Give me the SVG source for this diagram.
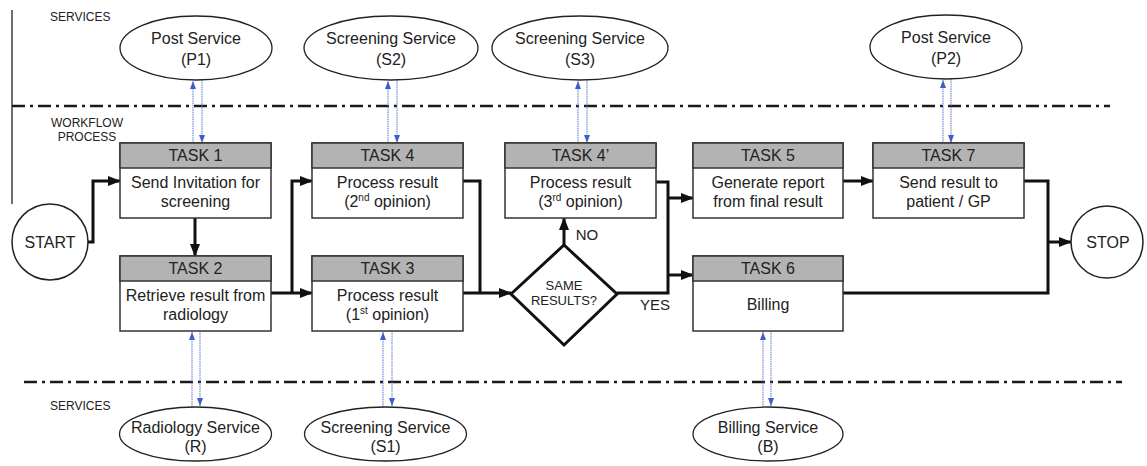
<svg xmlns="http://www.w3.org/2000/svg" width="1147" height="466" viewBox="0 0 1147 466">
<style>
text{font-family:"Liberation Sans",Arial,sans-serif;fill:#222;}
.t{font-size:16px;text-anchor:middle;}
.d{font-size:13px;text-anchor:middle;}
.y{font-size:15px;text-anchor:middle;}
.sup{font-size:10px;}
.lbl{font-size:12px;}
.box{fill:#fff;stroke:#333;stroke-width:1.5;}
.hdr{fill:#b3b3b3;stroke:#333;stroke-width:1.5;}
.ell{fill:#fff;stroke:#222;stroke-width:1.3;}
.flow{fill:none;stroke:#111;stroke-width:3;}
.svc{fill:none;stroke:#5a72d2;stroke-width:1;stroke-dasharray:1.5 0.8;}
.lane{fill:none;stroke:#1a1a1a;stroke-width:2.5;stroke-dasharray:13 5 3 5;}
</style>
<defs>
<marker id="ah" markerUnits="userSpaceOnUse" markerWidth="14" markerHeight="12" refX="12" refY="5" orient="auto">
<path d="M0,0 L13,5 L0,10 z" fill="#111"/>
</marker>
<marker id="bh" markerUnits="userSpaceOnUse" markerWidth="8" markerHeight="8" refX="8" refY="3" orient="auto">
<path d="M0,0 L8,3 L0,6 z" fill="#3f5cc8"/>
</marker>
</defs>
<rect width="1147" height="466" fill="#fff"/>
<g id="lanes">
<line x1="12" y1="10" x2="12" y2="204" stroke="#222" stroke-width="1.3"/>
<line class="lane" x1="12" y1="106" x2="1110" y2="106"/>
<line class="lane" x1="24" y1="382" x2="1122" y2="382"/>
<text class="lbl" x="50" y="21">SERVICES</text>
<text class="lbl" x="87" y="127" text-anchor="middle">WORKFLOW</text>
<text class="lbl" x="87" y="141" text-anchor="middle">PROCESS</text>
<text class="lbl" x="50" y="410">SERVICES</text>
</g>
<g id="connectors">
<path class="flow" d="M88,242 H93 V181 H120" marker-end="url(#ah)"/>
<path class="flow" d="M195,218 V256" marker-end="url(#ah)"/>
<path class="flow" d="M271,293 H312" marker-end="url(#ah)"/>
<path class="flow" d="M292,293 V181 H312" marker-end="url(#ah)"/>
<path class="flow" d="M463,181 H480 V293"/>
<path class="flow" d="M463,293 H511" marker-end="url(#ah)"/>
<path class="flow" d="M564,245 V218" marker-end="url(#ah)"/>
<path class="flow" d="M617,293 H668 V182 H656"/>
<path class="flow" d="M668,198 H693" marker-end="url(#ah)"/>
<path class="flow" d="M668,275 H693" marker-end="url(#ah)"/>
<path class="flow" d="M843,181 H873" marker-end="url(#ah)"/>
<path class="flow" d="M1024,181 H1048 V293 H843"/>
<path class="flow" d="M1048,242 H1071" marker-end="url(#ah)"/>
<text class="y" x="587" y="240">NO</text>
<text class="y" x="655" y="310">YES</text>
<line class="svc" x1="193" y1="143" x2="193" y2="81" marker-end="url(#bh)"/>
<line class="svc" x1="202" y1="80" x2="202" y2="143" marker-end="url(#bh)"/>
<line class="svc" x1="388" y1="143" x2="388" y2="81" marker-end="url(#bh)"/>
<line class="svc" x1="397" y1="80" x2="397" y2="143" marker-end="url(#bh)"/>
<line class="svc" x1="578" y1="143" x2="578" y2="81" marker-end="url(#bh)"/>
<line class="svc" x1="587" y1="80" x2="587" y2="143" marker-end="url(#bh)"/>
<line class="svc" x1="943" y1="143" x2="943" y2="80" marker-end="url(#bh)"/>
<line class="svc" x1="951" y1="79" x2="951" y2="143" marker-end="url(#bh)"/>
<line class="svc" x1="192" y1="407" x2="192" y2="332" marker-end="url(#bh)"/>
<line class="svc" x1="200" y1="331" x2="200" y2="406" marker-end="url(#bh)"/>
<line class="svc" x1="383" y1="407" x2="383" y2="332" marker-end="url(#bh)"/>
<line class="svc" x1="392" y1="331" x2="392" y2="406" marker-end="url(#bh)"/>
<line class="svc" x1="763" y1="407" x2="763" y2="332" marker-end="url(#bh)"/>
<line class="svc" x1="771" y1="331" x2="771" y2="406" marker-end="url(#bh)"/>
</g>
<g id="start">
<circle cx="50" cy="242" r="38" fill="#fff" stroke="#222" stroke-width="1.5"/>
<text class="t" x="50" y="248">START</text>
</g>
<g id="stop">
<circle cx="1107" cy="242" r="36" fill="#fff" stroke="#222" stroke-width="1.5"/>
<text class="t" x="1108" y="248">STOP</text>
</g>
<g id="task1">
<rect class="box" x="120" y="143" width="151" height="75"/>
<rect class="hdr" x="120" y="143" width="151" height="25"/>
<text class="t" x="195.5" y="161">TASK 1</text>
<text class="t" x="195.5" y="188">Send Invitation for</text>
<text class="t" x="195.5" y="207">screening</text>
</g>
<g id="task2">
<rect class="box" x="120" y="256" width="151" height="75"/>
<rect class="hdr" x="120" y="256" width="151" height="25"/>
<text class="t" x="195.5" y="274">TASK 2</text>
<text class="t" x="195.5" y="301">Retrieve result from</text>
<text class="t" x="195.5" y="320">radiology</text>
</g>
<g id="task4">
<rect class="box" x="312" y="143" width="151" height="75"/>
<rect class="hdr" x="312" y="143" width="151" height="25"/>
<text class="t" x="387.5" y="161">TASK 4</text>
<text class="t" x="387.5" y="188">Process result</text>
<text class="t" x="387.5" y="207">(2<tspan class="sup" dy="-6">nd</tspan><tspan dy="6"> opinion)</tspan></text>
</g>
<g id="task3">
<rect class="box" x="312" y="256" width="151" height="75"/>
<rect class="hdr" x="312" y="256" width="151" height="25"/>
<text class="t" x="387.5" y="274">TASK 3</text>
<text class="t" x="387.5" y="301">Process result</text>
<text class="t" x="387.5" y="320">(1<tspan class="sup" dy="-6">st</tspan><tspan dy="6"> opinion)</tspan></text>
</g>
<g id="task4b">
<rect class="box" x="505" y="143" width="151" height="75"/>
<rect class="hdr" x="505" y="143" width="151" height="25"/>
<text class="t" x="580.5" y="161">TASK 4’</text>
<text class="t" x="580.5" y="188">Process result</text>
<text class="t" x="580.5" y="207">(3<tspan class="sup" dy="-6">rd</tspan><tspan dy="6"> opinion)</tspan></text>
</g>
<g id="decision">
<path d="M511,294 L564,245 L617,294 L564,345 z" fill="#fff" stroke="#111" stroke-width="3"/>
<text class="d" x="564" y="290">SAME</text>
<text class="d" x="564" y="305">RESULTS?</text>
</g>
<g id="task5">
<rect class="box" x="693" y="143" width="150" height="75"/>
<rect class="hdr" x="693" y="143" width="150" height="25"/>
<text class="t" x="768" y="161">TASK 5</text>
<text class="t" x="768" y="188">Generate report</text>
<text class="t" x="768" y="207">from final result</text>
</g>
<g id="task6">
<rect class="box" x="693" y="256" width="150" height="75"/>
<rect class="hdr" x="693" y="256" width="150" height="25"/>
<text class="t" x="768" y="274">TASK 6</text>
<text class="t" x="768" y="310">Billing</text>
</g>
<g id="task7">
<rect class="box" x="873" y="143" width="151" height="75"/>
<rect class="hdr" x="873" y="143" width="151" height="25"/>
<text class="t" x="948.5" y="161">TASK 7</text>
<text class="t" x="948.5" y="188">Send result to</text>
<text class="t" x="948.5" y="207">patient / GP</text>
</g>
<g id="svcP1">
<ellipse class="ell" cx="196" cy="48" rx="76" ry="32"/>
<text class="t" x="196" y="44">Post Service</text>
<text class="t" x="196" y="65">(P1)</text>
</g>
<g id="svcS2">
<ellipse class="ell" cx="391" cy="48" rx="87" ry="32"/>
<text class="t" x="391" y="44">Screening Service</text>
<text class="t" x="391" y="65">(S2)</text>
</g>
<g id="svcS3">
<ellipse class="ell" cx="580" cy="48" rx="88" ry="32"/>
<text class="t" x="580" y="44">Screening Service</text>
<text class="t" x="580" y="65">(S3)</text>
</g>
<g id="svcP2">
<ellipse class="ell" cx="946" cy="47" rx="76" ry="32"/>
<text class="t" x="946" y="43">Post Service</text>
<text class="t" x="946" y="64">(P2)</text>
</g>
<g id="svcR">
<ellipse class="ell" cx="195.5" cy="434" rx="76" ry="27"/>
<text class="t" x="195.5" y="433">Radiology Service</text>
<text class="t" x="195.5" y="452">(R)</text>
</g>
<g id="svcS1">
<ellipse class="ell" cx="385.5" cy="434" rx="81" ry="27"/>
<text class="t" x="385.5" y="433">Screening Service</text>
<text class="t" x="385.5" y="452">(S1)</text>
</g>
<g id="svcB">
<ellipse class="ell" cx="768" cy="434" rx="75" ry="27"/>
<text class="t" x="768" y="433">Billing Service</text>
<text class="t" x="768" y="452">(B)</text>
</g>
</svg>
